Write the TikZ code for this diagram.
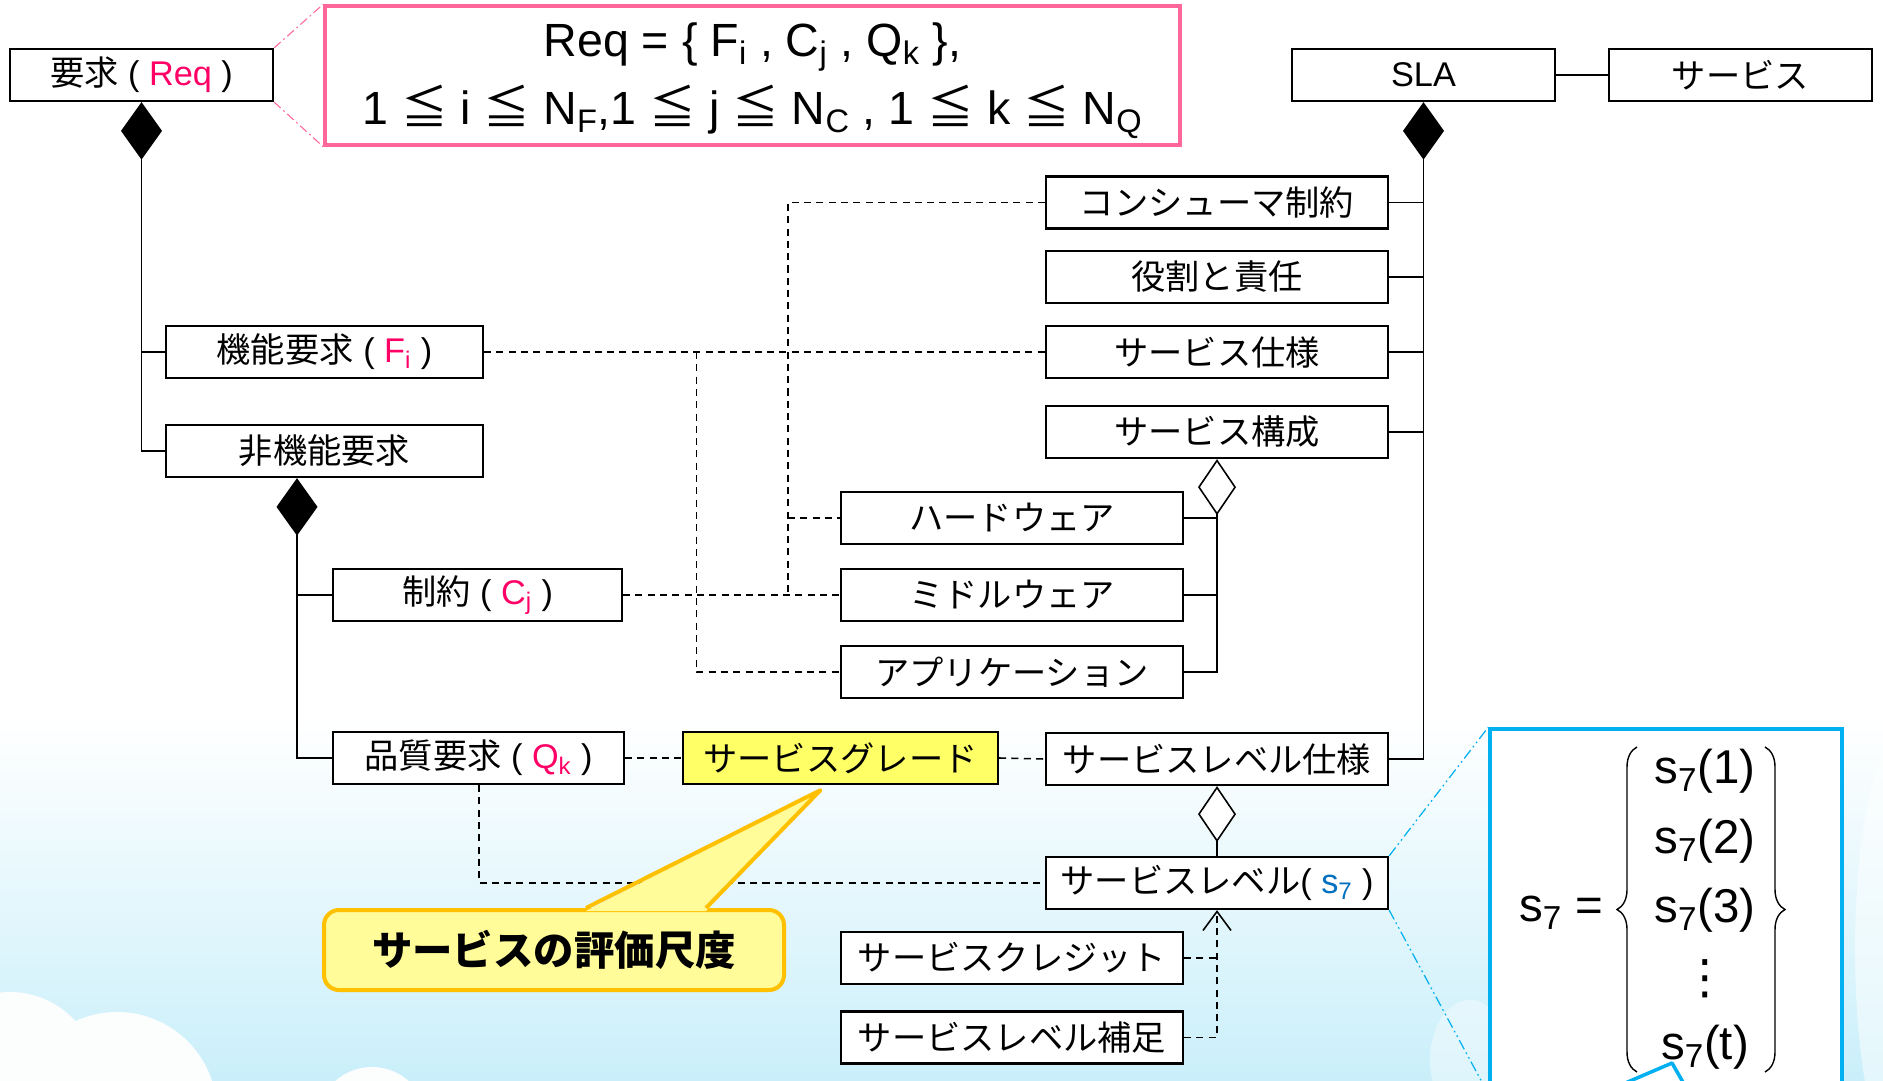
\documentclass[tikz,border=0pt]{standalone}
\usepackage{fontspec}
\setmainfont{Liberation Sans}
\newfontfamily\cjk{Noto Sans CJK JP}
\newfontfamily\dejavu{DejaVu Sans}
\usetikzlibrary{arrows.meta, calc, decorations.pathreplacing}

\definecolor{reqpink}{RGB}{255,0,102}
\definecolor{framepink}{RGB}{255,102,153}
\definecolor{s7blue}{RGB}{0,112,192}
\definecolor{zoomblue}{RGB}{0,176,240}
\definecolor{gradeyellow}{RGB}{255,255,102}
\definecolor{noteyellow}{RGB}{255,252,153}
\definecolor{noteorange}{RGB}{255,192,0}
\definecolor{skyblue}{RGB}{202,239,250}

\newcommand\clsfont{\fontsize{19.5}{23}\selectfont}

\begin{document}
\begin{tikzpicture}[
    x = 0.2mm, y = -0.2mm,
    cls/.style = {draw, line width = 1.3pt, fill = white, minimum height = 10.4mm,
                  inner sep = 0pt, font = \clsfont},
    link/.style = {line width = 0.9pt},
    comp/.style = {line width = 0.9pt, {Diamond[length = 11.5mm, width = 8.2mm]}-},
    agg/.style = {line width = 0.9pt, {Diamond[open, fill = white, length = 11.2mm, width = 7.6mm]}-},
    dep/.style = {line width = 0.9pt, dash pattern = on 4pt off 3pt},
    brace/.style = {decorate, decoration = {brace, amplitude = 4mm}, line width = 0.8pt},
    notebox/.style = {draw = noteorange, line width = 0.8mm, fill = noteyellow,
                      rounded corners = 3mm, minimum width = 92mm, minimum height = 16mm,
                      font = \fontsize{23}{27}\selectfont\cjk\bfseries}]

\useasboundingbox (0,0) rectangle (1883,1081);
\clip (0,0) rectangle (1883,1081);

% background
\fill[white] (0,0) rectangle (1883,1081);
\shade[top color = white, bottom color = skyblue] (0,720) rectangle (1883,1081);
\fill[white, opacity = 0.95] (10,1080) circle [radius = 88]
                             (117,1112) circle [radius = 100]
                             (372,1122) circle [radius = 55];
\fill[white, opacity = 0.5] (1905,950) ellipse [x radius = 50, y radius = 220];
\fill[white, opacity = 0.4] (1470,1060) ellipse [x radius = 40, y radius = 60];

% classes
\node[cls, minimum width = 52.6mm] (req) at (141.5,75)
    {{\cjk 要求} ( \textcolor{reqpink}{Req} )};
\node[draw = framepink, line width = 2pt, fill = white, minimum width = 171mm,
      minimum height = 27.8mm] (formula) at (752.5,75.5) {};
\node[align = center, font = \fontsize{26.5}{39}\selectfont] (formulatext) at ($(formula.center)+(0,5)$)
    {Req = \{ F\textsubscript{i} , C\textsubscript{j} , Q\textsubscript{k} \},\\
     1 {\cjk ≦} i {\cjk ≦} N\textsubscript{F},1 {\cjk ≦} j {\cjk ≦} N\textsubscript{C} ,
     1 {\cjk ≦} k {\cjk ≦} N\textsubscript{Q}};
\node[cls, minimum width = 52.6mm] (sla) at (1423.5,75) {SLA};
\node[cls, minimum width = 52.6mm] (service) at (1740.5,75) {\cjk サービス};

\node[cls, minimum width = 68.4mm] (consum) at (1217,202.5) {\cjk コンシューマ制約};
\node[cls, minimum width = 68.4mm] (role) at (1217,277) {\cjk 役割と責任};
\node[cls, minimum width = 68.4mm] (spec) at (1217,352) {\cjk サービス仕様};
\node[cls, minimum width = 68.4mm] (compose) at (1217,432) {\cjk サービス構成};
\node[cls, minimum width = 68.4mm] (slspec) at (1217,759) {\cjk サービスレベル仕様};
\node[cls, minimum width = 68.4mm] (level) at (1217,883)
    {{\cjk サービスレベル}( \textcolor{s7blue}{s\textsubscript{7}} )};

\node[cls, minimum width = 68.4mm] (hw) at (1012,518) {\cjk ハードウェア};
\node[cls, minimum width = 68.4mm] (mw) at (1012,595) {\cjk ミドルウェア};
\node[cls, minimum width = 68.4mm] (app) at (1012,672) {\cjk アプリケーション};
\node[cls, minimum width = 68.4mm] (credit) at (1012,958) {\cjk サービスクレジット};
\node[cls, minimum width = 68.4mm] (suppl) at (1012,1037.5) {\cjk サービスレベル補足};

\node[cls, minimum width = 63.4mm] (func) at (324.5,352)
    {{\cjk 機能要求} ( \textcolor{reqpink}{F\textsubscript{i}} )};
\node[cls, minimum width = 63.4mm] (nonfunc) at (324.5,451) {\cjk 非機能要求};
\node[cls, minimum width = 57.8mm] (constr) at (477.5,595)
    {{\cjk 制約} ( \textcolor{reqpink}{C\textsubscript{j}} )};
\node[cls, minimum width = 58.2mm] (quality) at (478.5,758)
    {{\cjk 品質要求} ( \textcolor{reqpink}{Q\textsubscript{k}} )};
\node[cls, minimum width = 63mm, fill = gradeyellow] (grade) at (840.5,758) {\cjk サービスグレード};

% zoom of s7
\node[draw = zoomblue, line width = 2pt, fill = white, minimum width = 70.4mm,
      minimum height = 72.6mm] (zoom) at (1666,910.5) {};
\begin{scope}[font = \fontsize{27}{32}\selectfont]
\node (s7) at (1561,913) {s\textsubscript{7} =};
\node (s1) at (1705,771) {s\textsubscript{7}(1)};
\node (s2) at (1705,841) {s\textsubscript{7}(2)};
\node (s3) at (1705,910) {s\textsubscript{7}(3)};
\node (sdots) at (1705,979) {\dejavu ⋮};
\node (st) at (1705,1047) {s\textsubscript{7}(t)};
\end{scope}
\draw[brace] (1637,1072) -- (1637,747);
\draw[brace] (1765,747) -- (1765,1072);
\draw[zoomblue, line width = 2pt, line join = round] (1623,1084) -- (1672,1063) -- (1684,1084);

% whole-part links
\draw[comp] (req.south) |- (nonfunc.west);
\draw[link] (func.west) -- (func.west -| req.south);
\coordinate (nf) at ($(nonfunc.south)+(-27.5,0)$);
\draw[comp] (nf) |- (quality.west);
\draw[link] (constr.west) -- (constr.west -| nf);
\draw[comp] (sla.south) |- (slspec.east);
\foreach \n in {consum, role, spec, compose}
    \draw[link] (\n.east) -- (\n.east -| sla.south);
\draw[link] (sla.east) -- (service.west);
\draw[agg] (compose.south) |- (app.east);
\draw[link] (hw.east) -- (hw.east -| compose.south);
\draw[link] (mw.east) -- (mw.east -| compose.south);
\draw[agg] (slspec.south) -- (level.north);

% dependencies
\coordinate (fx) at (696.5,0);
\coordinate (cx) at (788,0);
\coordinate (qx) at (479,0);
\draw[dep] (func.east) -- (spec.west);
\draw[dep] (fx |- func.east) |- (app.west);
\draw[dep] (consum.west) -| (cx |- mw.west);
\draw[dep] (cx |- hw.west) -- (hw.west);
\draw[dep] (constr.east) -- (mw.west);
\draw[dep] (quality.east) -- (grade.west);
\draw[dep] (grade.east) -- (slspec.west);
\draw[dep] (qx |- quality.south) |- (level.west);
\draw[dep] (credit.east) -- (credit.east -| level.south);
\draw[dep, -{Straight Barb[length = 3.8mm, width = 5.6mm]}] (suppl.east) -| (level.south);

% zoom lines
\draw[framepink, line width = 0.6pt, dash pattern = on 5pt off 2pt on 1pt off 2pt]
    (req.north east) -- (formula.north west)
    (req.south east) -- (formula.south west);
\draw[zoomblue, line width = 0.7pt, dash pattern = on 6pt off 2pt on 1pt off 2pt on 1pt off 2pt]
    (level.north east) -- (zoom.north west)
    (level.south east) -- (zoom.south west);

% callout
\node[notebox] (note) at (554,950) {サービスの評価尺度};
\coordinate (tip) at ($(grade.south)+(-20,5)$);
\fill[noteyellow] ($(note.north west)+(264,3)$) -- (tip) -- ($(note.north west)+(384,3)$) -- cycle;
\draw[noteorange, line width = 0.8mm, line join = round]
    ($(note.north west)+(264,0)$) -- (tip) -- ($(note.north west)+(384,0)$);
\end{tikzpicture}
\end{document}
